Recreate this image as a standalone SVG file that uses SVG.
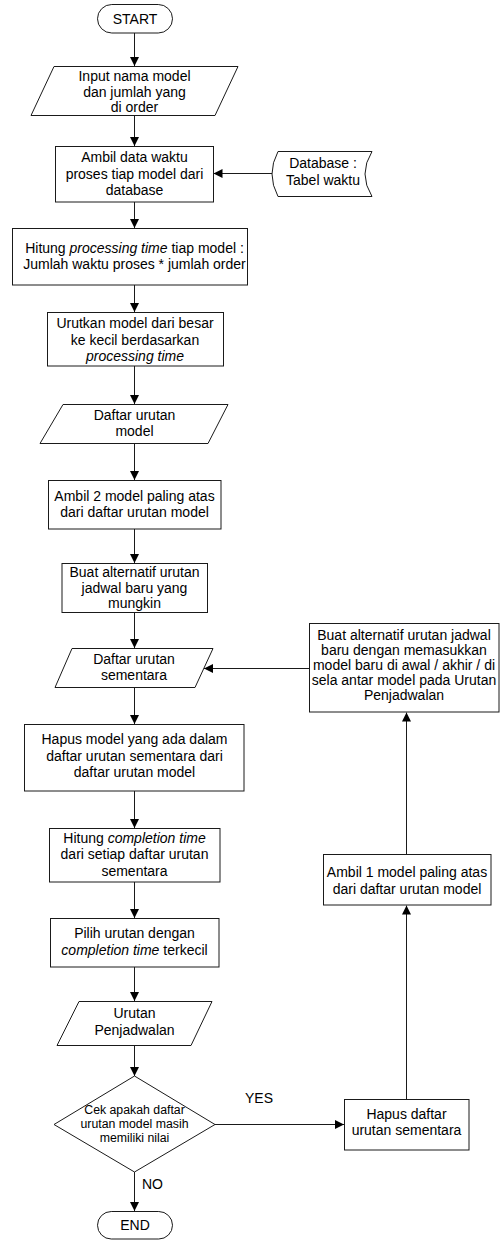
<svg xmlns="http://www.w3.org/2000/svg" width="500" height="1240" viewBox="0 0 500 1240">
<style>
.s{fill:#fff;stroke:#1a1a1a;stroke-width:1}
.c{fill:none;stroke:#1a1a1a;stroke-width:1}
text{font-family:"Liberation Sans",Arial,sans-serif;font-size:14px;fill:#000}
.m{text-anchor:middle}
.d{font-size:12.3px}
.i{font-style:italic}
</style>
<defs>
<marker id="ah" markerUnits="userSpaceOnUse" markerWidth="9" markerHeight="9" viewBox="0 0 9 9" refX="9" refY="4.5" orient="auto">
<path d="M0,0 L9,4.5 L0,9 z" fill="#000"/>
</marker>
</defs>
<g id="connectors">
<line class="c" x1="134.5" y1="33" x2="134.5" y2="66" marker-end="url(#ah)"/>
<line class="c" x1="134.5" y1="115" x2="134.5" y2="146" marker-end="url(#ah)"/>
<line class="c" x1="273" y1="173.5" x2="213.5" y2="173.5" marker-end="url(#ah)"/>
<line class="c" x1="134.5" y1="202" x2="134.5" y2="228" marker-end="url(#ah)"/>
<line class="c" x1="134.5" y1="285" x2="134.5" y2="312" marker-end="url(#ah)"/>
<line class="c" x1="134.5" y1="366" x2="134.5" y2="404" marker-end="url(#ah)"/>
<line class="c" x1="134.5" y1="443" x2="134.5" y2="480" marker-end="url(#ah)"/>
<line class="c" x1="134.5" y1="529" x2="134.5" y2="563" marker-end="url(#ah)"/>
<line class="c" x1="134.5" y1="612" x2="134.5" y2="648" marker-end="url(#ah)"/>
<line class="c" x1="309" y1="668.5" x2="204" y2="668.5" marker-end="url(#ah)"/>
<line class="c" x1="134.5" y1="687" x2="134.5" y2="724" marker-end="url(#ah)"/>
<line class="c" x1="134.5" y1="791" x2="134.5" y2="828" marker-end="url(#ah)"/>
<line class="c" x1="134.5" y1="882" x2="134.5" y2="918" marker-end="url(#ah)"/>
<line class="c" x1="134.5" y1="967" x2="134.5" y2="1001" marker-end="url(#ah)"/>
<line class="c" x1="134.5" y1="1045" x2="134.5" y2="1076" marker-end="url(#ah)"/>
<line class="c" x1="134.5" y1="1172" x2="134.5" y2="1211" marker-end="url(#ah)"/>
<line class="c" x1="215" y1="1124.5" x2="344" y2="1124.5" marker-end="url(#ah)"/>
<line class="c" x1="406.5" y1="1099" x2="406.5" y2="905.5" marker-end="url(#ah)"/>
<line class="c" x1="406.5" y1="854" x2="406.5" y2="712.5" marker-end="url(#ah)"/>
<text x="245" y="1103">YES</text>
<text x="142" y="1189">NO</text>
</g>
<g id="start">
<rect class="s" x="97.5" y="4.5" width="75" height="28.5" rx="14.25"/>
<text class="m" x="135" y="24">START</text>
</g>
<g id="input">
<polygon class="s" points="54,66.5 238,66.5 215,115.5 31,115.5"/>
<text class="m" x="134.5" y="81">Input nama model</text>
<text class="m" x="134.5" y="96.5">dan jumlah yang</text>
<text class="m" x="134.5" y="112">di order</text>
</g>
<g id="ambil-data">
<rect class="s" x="55.5" y="146.5" width="158" height="55.5"/>
<text class="m" x="134.5" y="162">Ambil data waktu</text>
<text class="m" x="134.5" y="178.5">proses tiap model dari</text>
<text class="m" x="134.5" y="195">database</text>
</g>
<g id="database">
<path class="s" d="M278,151.5 L372,151.5 Q358,174 372,196.5 L278,196.5 Q266,174 278,151.5 z"/>
<text class="m" x="323" y="168">Database :</text>
<text class="m" x="323" y="185">Tabel waktu</text>
</g>
<g id="hitung-processing">
<rect class="s" x="12.5" y="228.5" width="235" height="56.5"/>
<text class="m" x="134.5" y="253">Hitung <tspan class="i">processing time</tspan> tiap model :</text>
<text class="m" x="134.5" y="269">Jumlah waktu proses * jumlah order</text>
</g>
<g id="urutkan">
<rect class="s" x="47.5" y="312.5" width="176" height="53.5"/>
<text class="m" x="135" y="328">Urutkan model dari besar</text>
<text class="m" x="135" y="344.5">ke kecil berdasarkan</text>
<text class="m i" x="135" y="361">processing time</text>
</g>
<g id="daftar-model">
<polygon class="s" points="63,404.5 228,404.5 208,443.5 40,443.5"/>
<text class="m" x="134.5" y="420">Daftar urutan</text>
<text class="m" x="134.5" y="435.5">model</text>
</g>
<g id="ambil-2">
<rect class="s" x="48.5" y="480.5" width="172.5" height="48.5"/>
<text class="m" x="134.5" y="500.5">Ambil 2 model paling atas</text>
<text class="m" x="134.5" y="517">dari daftar urutan model</text>
</g>
<g id="buat-alternatif">
<rect class="s" x="62" y="563.5" width="145.5" height="49"/>
<text class="m" x="134.5" y="577">Buat alternatif urutan</text>
<text class="m" x="134.5" y="592.5">jadwal baru yang</text>
<text class="m" x="134.5" y="608">mungkin</text>
</g>
<g id="daftar-sementara">
<polygon class="s" points="72,648.5 213,648.5 195,687.5 55,687.5"/>
<text class="m" x="134" y="663.5">Daftar urutan</text>
<text class="m" x="134" y="680">sementara</text>
</g>
<g id="hapus-model">
<rect class="s" x="24.5" y="724.5" width="219.5" height="66.5"/>
<text class="m" x="134.5" y="744">Hapus model yang ada dalam</text>
<text class="m" x="134.5" y="760.5">daftar urutan sementara dari</text>
<text class="m" x="134.5" y="777">daftar urutan model</text>
</g>
<g id="hitung-completion">
<rect class="s" x="49.5" y="828.5" width="170.5" height="53.5"/>
<text class="m" x="134.5" y="843">Hitung <tspan class="i">completion time</tspan></text>
<text class="m" x="134.5" y="859">dari setiap daftar urutan</text>
<text class="m" x="134.5" y="875.5">sementara</text>
</g>
<g id="pilih">
<rect class="s" x="50.5" y="918.5" width="168.5" height="48.5"/>
<text class="m" x="134.5" y="938">Pilih urutan dengan</text>
<text class="m" x="134.5" y="955"><tspan class="i">completion time</tspan> terkecil</text>
</g>
<g id="urutan-penjadwalan">
<polygon class="s" points="79,1001.5 212,1001.5 191,1045.5 57,1045.5"/>
<text class="m" x="134.5" y="1018">Urutan</text>
<text class="m" x="134.5" y="1035">Penjadwalan</text>
</g>
<g id="cek">
<polygon class="s" points="134.5,1076 215,1124.5 134.5,1172 54,1124.5"/>
<text class="m d" x="134.5" y="1114">Cek apakah daftar</text>
<text class="m d" x="134.5" y="1128">urutan model masih</text>
<text class="m d" x="134.5" y="1142">memiliki nilai</text>
</g>
<g id="end">
<rect class="s" x="97.5" y="1211.5" width="75" height="27.5" rx="13.75"/>
<text class="m" x="135" y="1230">END</text>
</g>
<g id="hapus-daftar">
<rect class="s" x="344.5" y="1099.5" width="124.5" height="50.5"/>
<text class="m" x="406.5" y="1118.5">Hapus daftar</text>
<text class="m" x="406.5" y="1135">urutan sementara</text>
</g>
<g id="ambil-1">
<rect class="s" x="323.5" y="854.5" width="167.5" height="50.5"/>
<text class="m" x="407" y="877">Ambil 1 model paling atas</text>
<text class="m" x="407" y="893.5">dari daftar urutan model</text>
</g>
<g id="buat-sisip">
<rect class="s" x="309.5" y="623.5" width="189.5" height="88.5"/>
<text class="m" x="404" y="640">Buat alternatif urutan jadwal</text>
<text class="m" x="404" y="655">baru dengan memasukkan</text>
<text class="m" x="404" y="670">model baru di awal / akhir / di</text>
<text class="m" x="404" y="685">sela antar model pada Urutan</text>
<text class="m" x="404" y="700">Penjadwalan</text>
</g>
</svg>
